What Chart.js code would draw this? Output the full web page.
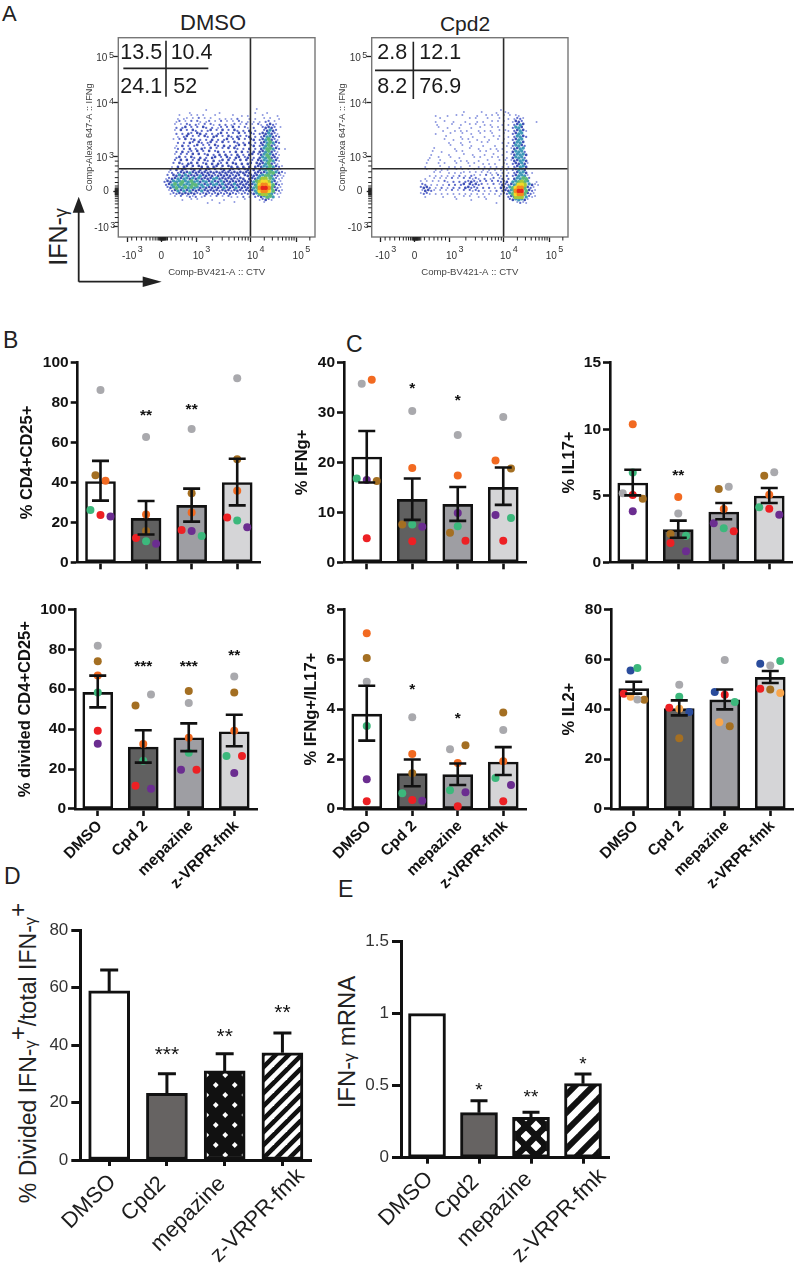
<!DOCTYPE html>
<html><head><meta charset="utf-8">
<script src="https://cdn.jsdelivr.net/npm/chart.js@4"></script>
<style>
html,body{margin:0;padding:0;background:#fff}
#page{position:relative;width:800px;height:1271px;overflow:hidden;font-family:"Liberation Sans",Arial,sans-serif;color:#222}
canvas{position:absolute}
.t{position:absolute;white-space:nowrap;line-height:1}
.r{transform:translate(-50%,-50%) rotate(-90deg)}
.c{transform:translate(-50%,-50%)}
.g{font-size:.72em}
.p{font-size:1.05em;position:relative;top:-.42em}
</style></head><body><div id="page">
<div class="t" style="left:2px;top:3px;font-size:22px">A</div>
<div class="t" style="left:3px;top:329px;font-size:23px">B</div>
<div class="t" style="left:346px;top:333px;font-size:23px">C</div>
<div class="t" style="left:4px;top:865px;font-size:23px">D</div>
<div class="t" style="left:338px;top:878px;font-size:23px">E</div>
<div class="t c" style="left:213px;top:23px;font-size:22px">DMSO</div>
<div class="t c" style="left:465px;top:23px;font-size:21px">Cpd2</div>
<div class="t r" style="left:58px;top:237px;font-size:25px">IFN-<span class="g">γ</span></div>
<div class="t r" style="left:28px;top:1053px;font-size:23px">% Divided IFN-<span class="g">γ</span><span class="p">+</span>/total IFN-<span class="g">γ</span><span class="p">+</span></div>
<div class="t r" style="left:347px;top:1042px;font-size:24px">IFN-<span class="g">γ</span> mRNA</div>
<svg style="position:absolute;left:0;top:0" width="200" height="300">
<path d="M78.7 281.7V205M78.7 281.7H150" stroke="#222" stroke-width="1.8" fill="none"/>
<path d="M78.7 196.7l6 16h-12zM161.7 281.7l-19 5.3v-10.6z" fill="#222"/>
</svg>
</div>
<script>
// ---------- categories ----------
const categories = ['DMSO','Cpd 2','mepazine','z-VRPR-fmk'];
const categoriesDE = ['DMSO','Cpd2','mepazine','z-VRPR-fmk'];

// ---------- panel B top: % CD4+CD25+ ----------
const b1Means=[40.5,22,28.5,40], b1Upper=[50.8,30.7,36.9,51.9], b1Lower=[30.9,13.9,20.4,28.5];
const b1Stars=['','**','**',''], b1StarY=[null,75.5,78.6,null];
const b1Grey=[[0,86.3],[1,62.8],[2,66.8],[3,92.2]];
const b1Brown=[[-.11,43.6],[1,15.7],[2,34.6],[3,51.6]];
const b1Orange=[[.11,40.9],[1,24],[2,24.9],[3,35.9]];
const b1Green=[[-.22,26.2],[1,10.5],[2.22,13.2],[3,20.9]];
const b1Red=[[0,23.7],[.78,12.2],[1.78,16.2],[2.78,22.5]];
const b1Purple=[[.22,23],[1.22,9.3],[2,15.7],[3.22,17.5]];

// ---------- panel B bottom: % divided CD4+CD25+ ----------
const b2Means=[58.4,31,35.7,38.7], b2Upper=[66.8,39.4,42.9,47.2], b2Lower=[50.9,23.2,29,31.4];
const b2Stars=['','***','***','**'], b2StarY=[null,73.6,73.6,78.8];
const b2Grey=[[0,81.8],[1.17,57.3],[2,53.1],[3,66.3]];
const b2Brown=[[0,74],[.83,51.8],[2,59.1],[3,58.3]];
const b2Orange=[[0,66.8],[1,32.6],[2,35.7],[3,39.2]];
const b2Green=[[0,58.3],[1,24.2],[2,28.2],[2.83,26.5]];
const b2Red=[[0,39.2],[.83,11.7],[2.17,19.7],[3.17,26.5]];
const b2Purple=[[0,32.7],[1.17,10.2],[1.83,19.7],[3,18]];

// ---------- panel C top-left: % IFNg+ ----------
const c1Means=[21.1,12.6,11.6,15], c1Upper=[26.3,16.8,15.1,19], c1Lower=[16,8.5,8.3,11.5];
const c1Stars=['','*','*',''], c1StarY=[null,35.7,33.3,null];
const c1Grey=[[-.11,35.8],[1,30.3],[2,25.5],[3,29.1]];
const c1Brown=[[.22,16.3],[.78,7.6],[1.83,5.9],[3.17,18.8]];
const c1Orange=[[.11,36.6],[1,18.9],[2,17.4],[2.83,20.4]];
const c1Green=[[-.22,16.8],[1,7.6],[2,7.2],[3.17,8.9]];
const c1Red=[[0,4.8],[1,4.2],[2.17,4.3],[3,4.3]];
const c1Purple=[[0,16.5],[1.22,7.1],[2,9.9],[2.83,9.5]];

// ---------- panel C bottom-left: % IFNg+/IL17+ ----------
const c2Means=[3.8,1.42,1.375,1.88], c2Upper=[4.94,1.98,1.82,2.48], c2Lower=[2.74,.91,.96,1.36];
const c2Stars=['','*','*',''], c2StarY=[null,4.93,3.78,null];
const c2Grey=[[0,5.1],[1,3.68],[1.83,2.39],[3,3.16]];
const c2Brown=[[0,6.05],[1,1.43],[2.17,2.55],[3,3.87]];
const c2Orange=[[0,7.04],[1,2.2],[2,1.84],[3,1.91]];
const c2Green=[[0,3.32],[.78,.63],[1.83,.75],[2.83,1.24]];
const c2Red=[[0,.31],[1,.36],[2,.11],[3,.31]];
const c2Purple=[[0,1.19],[1.22,.33],[2.17,.67],[3.17,.96]];

// ---------- panel C top-right: % IL17+ ----------
const c3Means=[5.96,2.45,3.78,4.98], c3Upper=[6.96,3.13,4.46,5.58], c3Lower=[5.03,1.85,3.23,4.46];
const c3Stars=['','**','',''], c3StarY=[null,6.81,null,null];
const c3Grey=[[-.22,5.18],[1,3.66],[2.11,5.68],[3.11,6.76]];
const c3Brown=[[.22,4.78],[.83,2.13],[1.89,5.51],[2.89,6.51]];
const c3Orange=[[0,10.37],[1,4.91],[2,4],[3,5.08]];
const c3Green=[[0,6.74],[1.17,2],[2,2.55],[2.78,4.13]];
const c3Red=[[0,5.06],[.83,1.45],[2.22,2.33],[3,4.03]];
const c3Purple=[[0,3.83],[1.17,.83],[1.78,2.93],[3.22,3.58]];

// ---------- panel C bottom-right: % IL2+ ----------
const c4Means=[48.2,40.2,43.7,52.7], c4Upper=[51,43.5,47.9,55.3], c4Lower=[46.2,37.5,39.9,50.5];
const c4Grey=[[.08,43.9],[1,49.8],[2,59.7],[3,57.5]];
const c4Brown=[[.23,43.8],[1,28.3],[2.11,33.1],[3,47.9]];
const c4LightOrange=[[-.07,45],[1,40.2],[1.88,34.8],[3.22,46.5]];
const c4Green=[[.08,56.5],[1,45],[2.22,42.9],[3.22,59.3]];
const c4Red=[[-.22,46.2],[.78,40.6],[2,45.8],[2.78,48.2]];
const c4Blue=[[-.07,55.5],[1.22,38.9],[1.78,46.9],[2.78,58.2]];

// ---------- panel D ----------
const dMeans=[58.8,23.2,31,37.3], dUpper=[66.1,30,37,44.2];
const dStars=['','***','**','**'], dStarY=[null,38.5,44.6,52.9];
// ---------- panel E ----------
const eMeans=[1,.3125,.28,.514], eUpper=[null,.396,.315,.581];
const eStars=['','*','**','*'], eStarY=[null,.498,.454,.683];

// ---------- panel A: quadrant gates, tick channels, density ----------
const quadX=688, quadY=351;
const flowTicksX=[[46,'-10','3'],[224,'0',''],[406,'10','3'],[688,'10','4'],[926,'10','5']];
const flowTicksY=[[53,'-10','3'],[232,'0',''],[412,'10','3'],[690,'10','4'],[926,'10','5']];
const flowMinorX=[70,95,120,145,165,180,192,202,210,214,218,220,222,226,228,230,232,234,236,238,240,243,246,250,256,275,300,325,345,365,385,491,541,576,604,626,645,661,676,760,802,832,855,873,889,903,915,997];
const flowMinorY=[75,100,125,150,170,185,197,207,215,218,221,224,227,230,233,236,239,242,245,248,252,262,280,305,335,365,390];
const dmsoGates=[['13.5',361/3,178/3],['10.4',512/3,178/3],['24.1',361/3,278/3],['52',520/3,278/3]];
const cpd2Gates=[['2.8',320+172/3,178/3],['12.1',320+298/3,178/3],['8.2',320+172/3,278/3],['76.9',320+298/3,278/3]];
// each character is the density level of one cell: . none, 1-3 blue, 4 teal, 5 green, 6-7 yellow, 8 orange, 9 red
const dmsoDensity=[
"..........  ....1.....  ..........  .1........  .",
"........1.  ........1.  ..........  1...1.....  .",
".....1...1  .1.1...1..  ...1..1.1.  ...1....1.  .",
"....1.11.1  .2.1.1..1.  1.1.2...1.  1..1.1..1.  .",
"....12.1.2  .21.12.1.2  .1.1.21.1.  1.1.22.1..  .",
"...1.1.22.  21.2.21.2.  2.12.1.2.1  .21.2321..  .",
"....2.23.2  .2.32.2.12  .2.3.2.21.  2..23332.1  .",
"...1.3.2.3  2.2.23.2.3  .2.32.2.3.  2..23432..  .",
"....2.2.32  .33.2.2.23  .2.2.3.2.3  2.2334321.  .",
"....1.23.2  .2.32.33.2  .32.32.23.  2.2344322.  .",
"...1.2.3.2  3.2.2.3.2.  23.2.3.2.3  3.2345321.  .",
"....2.2.32  .32.23.2.3  .2.32.2.3.  2.3345432.  .",
"....1.3.2.  23.2.2.32.  3.2.23.3.2  3.2345321.  .",
"...12.2.3.  2.32.3.2.2  .3.32.2.3.  2.3455432.  1",
"....2.3.22  .3.2.3.23.  2.2.3.3.2.  3.3345321.  .",
"...1.2.2.3  .3.23.2.3.  3.2.3.2.33  .23454321.  .",
"....23.2.3  2.3.2.33.2  .32.33.23.  2.3445332.  .",
"...2.3.3.2  .3.32.3.23  .3.2.3.3.2  .33445431.  .",
"...2.32.33  .3.23.3.32  .3.33.3.33  .33345321.  .",
"..1.3.33.3  .33.3.33.3  .33.3.3.3.  3334454321  .",
"..2.3.33.3  3.3.33.3.3  3.33.3.33.  3.34454321  .",
".12.233343  3333333333  333333333.  3333455432  1",
".2.3343433  3343333233  333233.333  3344554321  1",
"1233434434  3433334433  3333233.33  3456654211  .",
"2334445445  4434434334  3333333333  4567764311  .",
"2345454445  5443434434  3334333333  4578875321  .",
".234544545  4434333333  4333433333  4589985321  .",
".123434343  3343333323  3323332333  4578875321  .",
"..12233333  3222322232  2232212222  3456654211  .",
"...1.2.121  2.12.1.2.1  .21.1.2.1.  2234554.1.  .",
"......1..1  .1....1...  1......1..  ..12321...  .",
"..........  ....1...1.  ...1......  ...1......  ."
];
const cpd2Density=[
"..........  ..........  ........1.  ..........  .",
"..........  .....1....  .1....1..1  1.........  .",
"......1...  1..1.1....  1..1.1.1.1  .1.11.....  .",
".......1..  .......1.1  ...1...1..  1.1221....  .",
"......1..1  ..1...1...  1.1..1.1.1  ..1332....  1",
"......1...  .1..1..1.1  ..1.1...1.  1.2343....  .",
".......1..  1...1...1.  .1...1.1..  ..2443....  .",
"........1.  ..1.1.1...  1.1.1..1.1  1.23431...  .",
"......1...  .1...1..1.  .1...1...1  ..2344....  .",
".........1  ....1...1.  ..1..1.1..  1.24432...  .",
".........1  ..1..1.1..  1...1..1.1  ..2344....  .",
"..........  1...1..1..  .1.1....1.  1.3443....  .",
"..........  .1...1..1.  ..1...1...  1.24432...  .",
".....1....  ..1....1..  1...1.1.1.  .13344....  .",
".....1..1.  ...1.1....  .1.1...1..  1.34442...  .",
"....1.....  1....1..1.  ..1..1..1.  .134443...  .",
"....1..1..  .1..1....1  .1...1.1..  1.34442...  .",
"...1...1..  ..1.1.1...  1..1...1.1  .133443...  .",
"...1...1.1  ...1...1.1  ..1.1.1..1  1.233431..  .",
"..1....1..  1.1.1..1..  1.1.1.1.1.  1.23443...  .",
"...1..1.1.  1..1.1.1.1  ..1.1.1.1.  1.23443...  .",
".....1.1..  1.1.11.1.1  .1.11.1.1.  1.23443.1.  .",
"....1.1.1.  1.1.2.1.21  .1.2.1.21.  2.234441..  .",
"..1..1.1.1  .2.1.2.212  1.2.12.12.  2.344552..  .",
".1.1.1.1.2  1.2.2.2232  12.2.2.222  3.445654..  1",
".22.1.1.1.  2.2.23.323  22.1.2.132  2345776431  1",
".2332.1.2.  1.2.2.3322  2.2.2.1.33  2457885321  .",
".13321.1.1  .2.1.2.212  2.1.1.2.23  3458995321  .",
".1221.1.1.  1.1.1.1.1.  1.1.1.1.12  2457885321  .",
"..1.....1.  ..1..1.1..  1.1....1..  2346664211  .",
"..........  ...1....1.  ...1......  .2344431..  .",
"..........  ..........  ......1...  ...1211...  ."
];
</script>
<script>
const FONT='"Liberation Sans",Arial,sans-serif';
const page=document.getElementById('page');
const DOT={grey:'#a9a9ad',brown:'#a46f22',orange:'#f26a21',green:'#3cb87c',red:'#ed2024',purple:'#6b2d90',blue:'#2a4c9c',lorange:'#f9a64c'};
const BAR4=['#ffffff','#606060','#9e9ea3','#d5d5d7'];

function place(plotLeft,plotTop,plotW,plotH,W,H,padTopMin){
  const cLeft=Math.floor(plotLeft-W), cTop=Math.floor(plotTop-padTopMin);
  const c=document.createElement('canvas');
  const width=Math.ceil(plotLeft+plotW-cLeft)+2, height=Math.ceil(plotTop+plotH+H-cTop);
  c.width=width;c.height=height;
  c.style.left=cLeft+'px';c.style.top=cTop+'px';c.style.width=width+'px';c.style.height=height+'px';
  page.appendChild(c);
  return {c,cLeft,cTop,width,height,
    pad:{top:plotTop-cTop,right:width-(plotLeft+plotW-cLeft)},
    W:plotLeft-cLeft,
    H:height-(plotTop-cTop)-plotH};
}
function fixX(H){return s=>{s.height=H;s.paddingLeft=s.paddingRight=s.paddingTop=s.paddingBottom=0;}}
function fixY(W){return s=>{s.width=W;s.paddingLeft=s.paddingRight=s.paddingTop=s.paddingBottom=0;}}

function barPanel(o){
  const titleFs=o.titleFs||16.5, lh=titleFs*1.2;
  const W=o.yTitle?o.titleDist+lh/2:(o.W||50);
  const H=o.labels?(o.H||85):10;
  const p=place(o.left,o.top,o.w,o.h,W,H,10);
  const datasets=[{type:'bar',xAxisID:'x',yAxisID:'y',order:10,data:o.means,backgroundColor:o.fills||BAR4,
    borderColor:'#111',borderWidth:o.lw,borderSkipped:false,grouped:false,barPercentage:1,categoryPercentage:1,maxBarThickness:o.barW}];
  (o.dots||[]).forEach(d=>datasets.push({type:'scatter',xAxisID:'xp',yAxisID:'y',order:1,data:d[1],
    backgroundColor:d[0],borderWidth:0,pointRadius:4,clip:false}));
  new Chart(p.c,{type:'bar',data:{labels:o.labels||categories,datasets},
    options:{responsive:false,animation:false,devicePixelRatio:1,
      layout:{padding:{top:p.pad.top,right:p.pad.right,left:0,bottom:0}},
      plugins:{legend:{display:false},tooltip:{enabled:false}},
      scales:{
        x:{type:'category',position:'bottom',offset:true,afterFit:fixX(p.H),
          grid:{offset:false,drawOnChartArea:false,drawTicks:true,tickLength:o.xTick||7,tickWidth:o.lw,tickColor:'#111'},
          border:{display:true,color:'#111',width:o.lw},
          ticks:{display:!!o.labels&&!o.labelAnchors,autoSkip:false,maxRotation:45,minRotation:45,padding:o.xPad||1,labelOffset:o.labelOffset||0,color:'#111',
            font:{family:FONT,size:o.catFs||15.5,weight:o.bold===false?'normal':'bold'}}},
        xp:{type:'linear',axis:'x',display:false,offset:false,min:-.5,max:3.5},
        y:{type:'linear',position:'left',min:0,max:o.yMax,afterFit:fixY(p.W),
          grid:{drawOnChartArea:false,drawTicks:true,tickLength:o.yTick||7,tickWidth:o.lw,tickColor:'#111'},
          border:{display:true,color:'#111',width:o.lw},
          title:{display:!!o.yTitle,text:o.yTitle,color:'#111',padding:0,font:{family:FONT,size:titleFs,weight:'bold'}},
          ticks:{stepSize:o.yStep,padding:o.yPad||2,color:o.bold===false?'#333':'#111',callback:v=>String(v),
            font:{family:FONT,size:o.tickFs||15.5,weight:o.bold===false?'normal':'bold'}}}
      }},
    plugins:[{id:'marks',afterDatasetsDraw(ch){
      const g=ch.ctx,x=ch.scales.x,y=ch.scales.y,cap=o.cap/2;
      g.save();g.strokeStyle='#111';g.lineWidth=o.errW||o.lw;g.lineCap='butt';
      o.upper.forEach((u,i)=>{
        if(u==null)return;
        const px=x.getPixelForValue(i),lo=o.lower?o.lower[i]:o.means[i];
        g.beginPath();g.moveTo(px,y.getPixelForValue(u));g.lineTo(px,y.getPixelForValue(lo));
        g.moveTo(px-cap,y.getPixelForValue(u));g.lineTo(px+cap,y.getPixelForValue(u));
        if(o.lower){g.moveTo(px-cap,y.getPixelForValue(lo));g.lineTo(px+cap,y.getPixelForValue(lo));}
        g.stroke();
      });
      if(o.stars){
        const fs=o.starFs||15.5;
        g.fillStyle='#111';g.textAlign='center';g.textBaseline='alphabetic';
        g.font=(o.bold===false?'':'bold ')+fs+'px '+FONT;
        o.stars.forEach((s,i)=>{ if(s) g.fillText(s,x.getPixelForValue(i),y.getPixelForValue(o.starY[i])+fs*.55); });
      }
      if(o.labelAnchors){
        g.fillStyle='#1c1c1c';g.textAlign='right';g.textBaseline='middle';g.font=o.catFs+'px '+FONT;
        o.labels.forEach((s,i)=>{
          g.save();
          g.translate(x.getPixelForValue(i)+o.labelAnchors[i][0],y.bottom+o.labelAnchors[i][1]);
          g.rotate(-Math.PI/4);g.fillText(s,0,0);g.restore();
        });
      }
      g.restore();
    }}]
  });
}

function diamondPattern(w,h,r){
  const c=document.createElement('canvas');c.width=w;c.height=h;const g=c.getContext('2d');
  g.fillStyle='#111';g.fillRect(0,0,w,h);g.fillStyle='#fff';
  [[w/4,h/4],[3*w/4,3*h/4]].forEach(([x,y])=>{g.beginPath();g.moveTo(x-r,y);g.lineTo(x,y-r);g.lineTo(x+r,y);g.lineTo(x,y+r);g.closePath();g.fill();});
  return g.createPattern(c,'repeat');
}
function stripePattern(p,lw){
  const c=document.createElement('canvas');c.width=p;c.height=p;const g=c.getContext('2d');
  g.fillStyle='#111';g.fillRect(0,0,p,p);g.strokeStyle='#fff';g.lineWidth=lw;
  [[-p,p,p,-p],[0,p,p,0],[0,2*p,2*p,0]].forEach(a=>{g.beginPath();g.moveTo(a[0],a[1]);g.lineTo(a[2],a[3]);g.stroke();});
  return g.createPattern(c,'repeat');
}
const LEVEL={'1':['#8f9ae0',1],'2':['#5f6dcc',1.15],'3':['#3f50b6',1.35],'4':['#3f98b8',1.7],'5':['#5cb87a',2],'6':['#a6c93a',2.3],'7':['#f2da2a',2.4],'8':['#f58a1f',2.3],'9':['#e8261c',2.2]};
function flowPlot(left,gates,grid,gl){
  const W=34,H=41;
  const p=place(left,37.7,198.3,199.3,W,H,10);
  const X0=240.8,Y0=652.7,SX=15.48,SY=15.4;
  const cells={};
  grid.forEach((row,r)=>{[...row.replace(/ /g,'')].forEach((ch,c)=>{
    if(ch==='.')return;
    const low=ch<'6';
    (cells[ch]=cells[ch]||[]).push({x:X0+c*SX+(low&&r%2?SX/2:0),y:Y0-r*SY+(low&&c%2?SY/3:0)});});});
  const datasets=Object.keys(LEVEL).map((k,i)=>({type:'scatter',order:20-i,data:cells[k]||[],backgroundColor:LEVEL[k][0],pointRadius:LEVEL[k][1],borderWidth:0,clip:false}));
  datasets.push({type:'scatter',order:1,showLine:true,pointRadius:0,borderColor:'#2b2b2b',borderWidth:1.6,data:[{x:quadX,y:0},{x:quadX,y:1024}]});
  datasets.push({type:'scatter',order:1,showLine:true,pointRadius:0,borderColor:'#2b2b2b',borderWidth:1.6,data:[{x:0,y:quadY},{x:1024,y:quadY}]});
  new Chart(p.c,{type:'scatter',data:{datasets},options:{responsive:false,animation:false,devicePixelRatio:1,
    layout:{padding:{top:p.pad.top,right:p.pad.right,left:0,bottom:0}},
    plugins:{legend:{display:false},tooltip:{enabled:false}},
    scales:{
      x:{type:'linear',min:0,max:1024,afterFit:fixX(p.H),
        afterBuildTicks:s=>{s.ticks=flowTicksX.map(t=>({value:t[0]}));},
        grid:{drawOnChartArea:false,tickLength:5,tickWidth:1.3,tickColor:'#222'},
        border:{display:false},ticks:{display:false},
        title:{display:true,text:'Comp-BV421-A :: CTV',color:'#444',padding:0,font:{family:FONT,size:9.6}}},
      y:{type:'linear',min:0,max:1024,afterFit:fixY(p.W),
        afterBuildTicks:s=>{s.ticks=flowTicksY.map(t=>({value:t[0]}));},
        grid:{drawOnChartArea:false,tickLength:5,tickWidth:1.3,tickColor:'#222'},
        border:{display:false},ticks:{display:false},
        title:{display:true,text:'Comp-Alexa 647-A :: IFNg',color:'#444',padding:0,font:{family:FONT,size:9.2}}}
    }},
    plugins:[{id:'frame',afterDatasetsDraw(ch){
      const g=ch.ctx,a=ch.chartArea,x=ch.scales.x,y=ch.scales.y;
      const ox=-p.cLeft,oy=-p.cTop;
      g.save();
      g.strokeStyle='#777';g.lineWidth=1.4;g.strokeRect(a.left,a.top,a.right-a.left,a.bottom-a.top);
      g.strokeStyle='#222';g.lineWidth=1;g.beginPath();
      flowMinorX.forEach(v=>{const q=x.getPixelForValue(v);g.moveTo(q,a.bottom);g.lineTo(q,a.bottom+3.5);});
      flowMinorY.forEach(v=>{const q=y.getPixelForValue(v);g.moveTo(a.left,q);g.lineTo(a.left-3.5,q);});
      g.stroke();
      g.fillStyle='#333';g.textBaseline='alphabetic';
      flowTicksX.forEach(t=>{
        const q=x.getPixelForValue(t[0]);
        g.font='10px '+FONT;g.textAlign='left';
        const w=g.measureText(t[1]).width;
        const sx=q-w/2+(t[2]?2:0);
        g.fillText(t[1],sx,a.bottom+21.5);
        if(t[2]){g.font='9px '+FONT;g.fillText(t[2],sx+w+1.5,a.bottom+15);}
      });
      flowTicksY.forEach(t=>{
        const q=y.getPixelForValue(t[0]);
        g.font='10px '+FONT;g.textAlign='left';
        const w=g.measureText(t[1]).width;
        const sx=a.left-(t[2]?22:19)-(t[1].length>2?2:0);
        const by=q+(t[2]?4.5:2);
        g.fillText(t[1],t[2]?sx:a.left-15,by);
        if(t[2]){g.font='9px '+FONT;g.fillText(t[2],sx+w+1.5,by-3.5);}
      });
      g.fillStyle='#1a1a1a';g.font='21.5px '+FONT;g.textAlign='left';
      gates.forEach(t=>g.fillText(t[0],t[1]+ox,t[2]+oy));
      g.strokeStyle='#222';g.lineWidth=1.6;g.beginPath();
      g.moveTo(gl[0]+ox,gl[2]+oy);g.lineTo(gl[1]+ox,gl[2]+oy);
      g.moveTo(gl[3]+ox,gl[4]+oy);g.lineTo(gl[3]+ox,gl[5]+oy);
      g.stroke();
      g.restore();
    }}]
  });
}
flowPlot(118.3,dmsoGates,dmsoDensity,[370/3,625/3,205/3,498/3,122/3,290/3]);
flowPlot(371.7,cpd2Gates,cpd2Density,[320+165/3,320+393/3,211/3,320+280/3,125/3,297/3]);

const six=(g,b,o,gr,r,p)=>[[DOT.grey,g],[DOT.brown,b],[DOT.orange,o],[DOT.green,gr],[DOT.red,r],[DOT.purple,p]];
const common={w:184,lw:2.6,barW:30,cap:17,yStep:20,labelOffset:2};
barPanel({...common,left:77.7,top:362.7,h:199.6,yMax:100,yTitle:'% CD4+CD25+',titleDist:49.5,means:b1Means,upper:b1Upper,lower:b1Lower,stars:b1Stars,starY:b1StarY,dots:six(b1Grey,b1Brown,b1Orange,b1Green,b1Red,b1Purple)});
barPanel({...common,left:75,top:609.3,h:199.7,yMax:100,yTitle:'% divided CD4+CD25+',titleDist:49,labels:categories,means:b2Means,upper:b2Upper,lower:b2Lower,stars:b2Stars,starY:b2StarY,dots:six(b2Grey,b2Brown,b2Orange,b2Green,b2Red,b2Purple)});
barPanel({...common,left:344,top:362.7,h:199.6,yMax:40,yStep:10,yTitle:'% IFNg+',titleDist:41,means:c1Means,upper:c1Upper,lower:c1Lower,stars:c1Stars,starY:c1StarY,dots:six(c1Grey,c1Brown,c1Orange,c1Green,c1Red,c1Purple)});
barPanel({...common,left:344,top:609.3,h:199.7,yMax:8,yStep:2,yTitle:'% IFNg+/IL17+',titleDist:32,labels:categories,means:c2Means,upper:c2Upper,lower:c2Lower,stars:c2Stars,starY:c2StarY,dots:six(c2Grey,c2Brown,c2Orange,c2Green,c2Red,c2Purple)});
barPanel({...common,left:610,top:362.7,h:199.6,yMax:15,yStep:5,yTitle:'% IL17+',titleDist:40,means:c3Means,upper:c3Upper,lower:c3Lower,stars:c3Stars,starY:c3StarY,dots:six(c3Grey,c3Brown,c3Orange,c3Green,c3Red,c3Purple)});
barPanel({...common,left:611,top:609.3,h:199.7,yMax:80,yTitle:'% IL2+',titleDist:41,labels:categories,means:c4Means,upper:c4Upper,lower:c4Lower,dots:[[DOT.grey,c4Grey],[DOT.brown,c4Brown],[DOT.lorange,c4LightOrange],[DOT.green,c4Green],[DOT.red,c4Red],[DOT.blue,c4Blue]]});

const deCommon={lw:3,bold:false,tickFs:17,catFs:22,starFs:21,cap:18,yTick:9,xTick:6,yPad:3,H:111,W:40,xPad:3};
barPanel({...deCommon,left:80.3,top:930,w:231,h:230,yMax:80,yStep:20,labels:categoriesDE,means:dMeans,upper:dUpper,barW:41,
  labelAnchors:[[3.5,18.5],[-4.5,20.5],[-2.5,20.5],[18.5,12.5]],
  fills:['#ffffff','#666362',diamondPattern(19,20,2.9),stripePattern(13,4.6)],stars:dStars,starY:dStarY});
barPanel({...deCommon,left:401,top:941.7,w:208,h:216,yMax:1.5,yStep:.5,labels:categoriesDE,means:eMeans,upper:eUpper,barW:37,starFs:19,cap:17,
  labelAnchors:[[2.5,18],[-3.5,21],[-2.5,18],[19.5,15]],
  fills:['#ffffff','#666362',diamondPattern(20,20,5.4),stripePattern(18,6.6)],stars:eStars,starY:eStarY});
</script>
</body></html>
